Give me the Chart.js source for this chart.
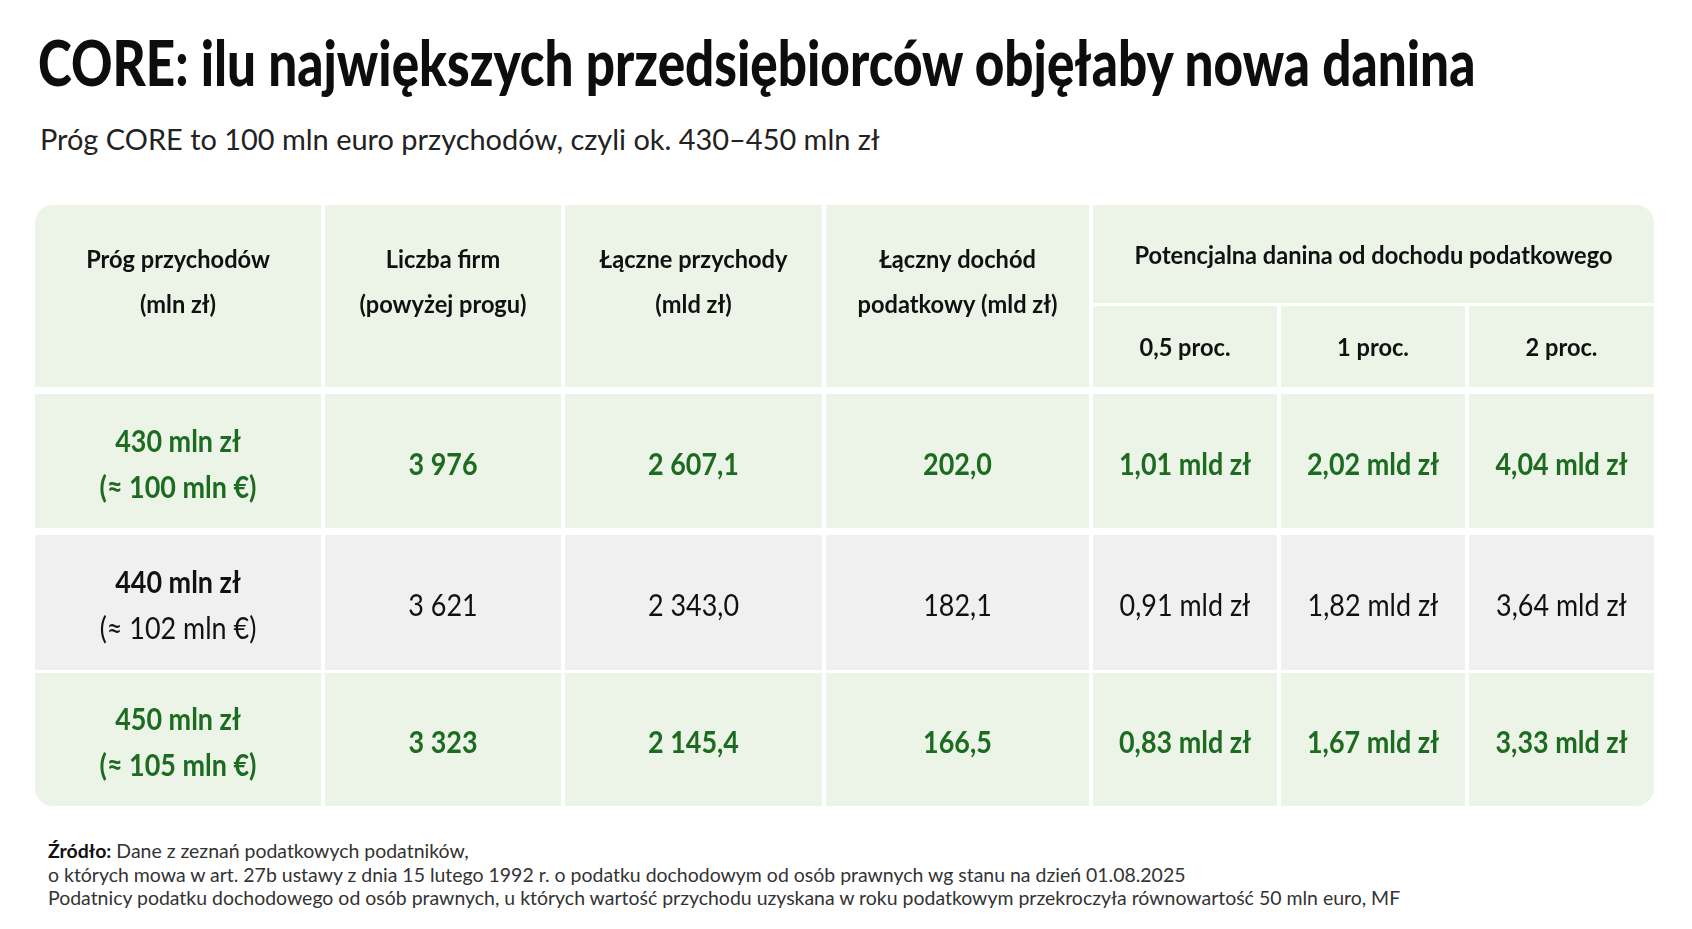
<!DOCTYPE html>
<html lang="pl">
<head>
<meta charset="utf-8">
<title>CORE – tabela</title>
<script src="https://cdn.jsdelivr.net/npm/chart.js@4.4.1/dist/chart.umd.min.js"></script>
<style>
  html, body { margin: 0; padding: 0; background: #fff; width: 1692px; height: 929px; overflow: hidden; }
  body { font-family: Lato, "Noto Sans", sans-serif; color: #111; }
  .txt { position: absolute; white-space: nowrap; transform-origin: left top; line-height: 1.2; }
  #title { left: 38px; top: 25px; font-size: 62px; font-weight: 900; color: #0d0d0d; }
  #subtitle { left: 40px; top: 122px; font-size: 29px; font-weight: 400; color: #222; }
  #source { left: 48px; top: 839px; font-size: 19px; line-height: 23.5px; color: #333; }
  #source div { line-height: 23.5px; }
  #source b { color: #111; }
  #tableWrap { position: absolute; left: 35px; top: 205px; width: 1619px; height: 601px; }
</style>
</head>
<body>
<div id="title" class="txt">CORE: ilu największych przedsiębiorców objęłaby nowa danina</div>
<div id="subtitle" class="txt">Próg CORE to 100 mln euro przychodów, czyli ok. 430–450 mln zł</div>
<div id="tableWrap"><canvas id="coreTable"></canvas></div>
<div id="source" class="txt">
  <div><b>Źródło:</b> Dane z zeznań podatkowych podatników,</div>
  <div>o których mowa w art. 27b ustawy z dnia 15 lutego 1992 r. o podatku dochodowym od osób prawnych wg stanu na dzień 01.08.2025</div>
  <div id="srcLast">Podatnicy podatku dochodowego od osób prawnych, u których wartość przychodu uzyskana w roku podatkowym przekroczyła równowartość 50 mln euro, MF</div>
</div>

<script>
// --- dane ---
const thresholds = ["430 mln zł", "440 mln zł", "450 mln zł"];
const thresholdsEur = ["(≈ 100 mln €)", "(≈ 102 mln €)", "(≈ 105 mln €)"];
const firmCounts = [3976, 3621, 3323];
const totalRevenue = [2607.1, 2343.0, 2145.4];
const taxableIncome = [202.0, 182.1, 166.5];
const levy05 = [1.01, 0.91, 0.83];
const levy1 = [2.02, 1.82, 1.67];
const levy2 = [4.04, 3.64, 3.33];

const headerLines = [
  ["Próg przychodów", "(mln zł)"],
  ["Liczba firm", "(powyżej progu)"],
  ["Łączne przychody", "(mld zł)"],
  ["Łączny dochód", "podatkowy (mld zł)"]
];
const groupHeader = "Potencjalna danina od dochodu podatkowego";
const levyRates = ["0,5 proc.", "1 proc.", "2 proc."];

// --- układ tabeli (jednostki = px w obrębie tabeli) ---
const TABLE_W = 1619, TABLE_H = 601;
const colBands = [[0, 286], [290, 526], [530, 787], [791, 1054], [1058, 1242], [1246, 1430], [1434, 1619]];
const headerBand = [0, 182];
const groupBand = [0, 98];
const rateBand = [101, 182];
const rowBands = [[189, 323], [330, 465], [468, 601]];
const RADIUS = 18;
const highlightRows = [true, false, true];

const GREEN = "#1c6b20";
const DARK = "#111111";
const BG_GREEN = "#ebf4e6";
const BG_GREY = "#f0f0f0";

function fmtPl(v, dec) {
  const parts = v.toFixed(dec).split(".");
  const int = parts[0].replace(/\B(?=(\d{3})+(?!\d))/g, " ");
  return parts.length > 1 ? int + "," + parts[1] : int;
}

function fitWidth(id, target) {
  const el = document.getElementById(id);
  const w = el.scrollWidth;
  el.style.transform = "scaleX(" + (target / w) + ")";
}

const tablePlugin = {
  id: "tablePlugin",
  beforeDatasetsDraw(chart) {
    const { ctx, scales: { x, y } } = chart;
    const px = v => x.getPixelForValue(v);
    const py = v => y.getPixelForValue(v);

    function cell(xb, yb, fill, radii) {
      ctx.beginPath();
      ctx.fillStyle = fill;
      ctx.roundRect(px(xb[0]), py(yb[0]), px(xb[1]) - px(xb[0]), py(yb[1]) - py(yb[0]), radii || 0);
      ctx.fill();
    }

    ctx.save();
    ctx.font = "700 24px Lato";
    const hsx = 478 / ctx.measureText(groupHeader).width;
    ctx.font = "700 31px Lato";
    const bsx = 132 / ctx.measureText("4,04 mld zł").width;
    ctx.restore();

    function text(str, cx, cy, font, sx, color) {
      ctx.save();
      ctx.font = font;
      ctx.fillStyle = color;
      ctx.textAlign = "center";
      ctx.textBaseline = "middle";
      ctx.translate(cx, cy);
      ctx.scale(sx, 1);
      ctx.fillText(str, 0, 0);
      ctx.restore();
    }
    const cx = c => (px(colBands[c][0]) + px(colBands[c][1])) / 2;
    const last = colBands.length - 1;

    // nagłówek
    for (let c = 0; c < 4; c++) {
      cell(colBands[c], headerBand, BG_GREEN, c === 0 ? [RADIUS, 0, 0, 0] : 0);
      const mid = py(headerBand[0]) + 78;
      text(headerLines[c][0], cx(c), mid - 22.5, "700 24px Lato", hsx, DARK);
      text(headerLines[c][1], cx(c), mid + 22.5, "700 24px Lato", hsx, DARK);
    }
    const gx = [colBands[4][0], colBands[last][1]];
    cell(gx, groupBand, BG_GREEN, [0, RADIUS, 0, 0]);
    text(groupHeader, (px(gx[0]) + px(gx[1])) / 2, (py(groupBand[0]) + py(groupBand[1])) / 2 + 2,
      "700 24px Lato", hsx, DARK);
    levyRates.forEach((r, i) => {
      cell(colBands[4 + i], rateBand, BG_GREEN);
      text(r, cx(4 + i), (py(rateBand[0]) + py(rateBand[1])) / 2 + 2, "700 24px Lato", hsx, DARK);
    });

    // wiersze danych
    thresholds.forEach((t, r) => {
      const hl = highlightRows[r];
      const bg = hl ? BG_GREEN : BG_GREY;
      const color = hl ? GREEN : DARK;
      const wVal = hl ? 700 : 400;
      const isLast = r === thresholds.length - 1;
      const yb = rowBands[r];
      const mid = (py(yb[0]) + py(yb[1])) / 2 + 3.5;
      const values = [
        null,
        fmtPl(firmCounts[r], 0),
        fmtPl(totalRevenue[r], 1),
        fmtPl(taxableIncome[r], 1),
        fmtPl(levy05[r], 2) + " mld zł",
        fmtPl(levy1[r], 2) + " mld zł",
        fmtPl(levy2[r], 2) + " mld zł"
      ];
      for (let c = 0; c <= last; c++) {
        let radii = 0;
        if (isLast && c === 0) radii = [0, 0, 0, RADIUS];
        if (isLast && c === last) radii = [0, 0, RADIUS, 0];
        cell(colBands[c], yb, bg, radii);
        if (c === 0) {
          text(t, cx(0), mid - 23, "700 31px Lato", bsx, color);
          text(thresholdsEur[r], cx(0), mid + 23, wVal + " 31px Lato", bsx, color);
        } else {
          text(values[c], cx(c), mid, wVal + " 31px Lato", bsx, color);
        }
      }
    });
  }
};

function init() {
  fitWidth("title", 1437);
  fitWidth("subtitle", 840);
  const src = document.getElementById("source");
  const lastW = document.getElementById("srcLast").scrollWidth;
  src.style.transform = "scaleX(" + (1352 / lastW) + ")";

  new Chart(document.getElementById("coreTable").getContext("2d"), {
    type: "scatter",
    data: { datasets: [{ data: [] }] },
    options: {
      responsive: true,
      maintainAspectRatio: false,
      animation: false,
      layout: { padding: 0 },
      plugins: { legend: { display: false }, tooltip: { enabled: false } },
      scales: {
        x: { type: "linear", min: 0, max: TABLE_W, display: false },
        y: { type: "linear", min: 0, max: TABLE_H, reverse: true, display: false }
      }
    },
    plugins: [tablePlugin]
  });
}

document.fonts.ready.then(() => {
  Promise.all([
    document.fonts.load("700 24px Lato"),
    document.fonts.load("700 31px Lato"),
    document.fonts.load("400 31px Lato")
  ]).finally(init);
});
</script>
</body>
</html>
